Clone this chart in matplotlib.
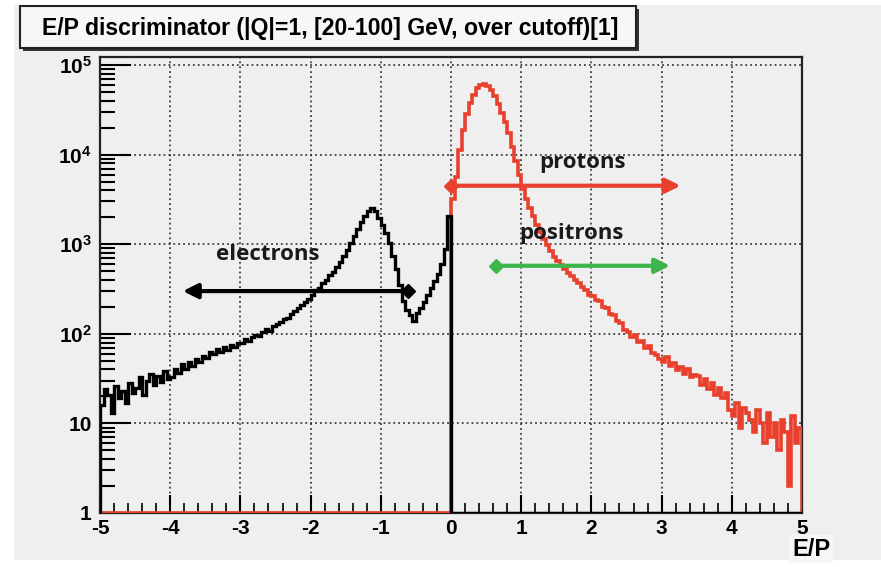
import numpy as np
import matplotlib
matplotlib.use('Agg')
import matplotlib.pyplot as plt
from matplotlib.patches import Rectangle
from matplotlib.ticker import FixedLocator, FixedFormatter, MultipleLocator, LogLocator, NullFormatter

# histogram binning, 0.05 wide bins over [-5, 5]
edges = np.linspace(-5, 5, 201)

# electron-like entries, E/P < 0 (100 bins)
electrons = [16, 24, 21, 13, 26, 19, 23, 17, 28, 22,
             25, 33, 21, 30, 36, 27, 34, 29, 38, 31,
             33, 41, 37, 46, 40, 48, 44, 53, 49, 57,
             54, 63, 59, 68, 62, 72, 66, 76, 71, 80,
             78, 88, 83, 93, 98, 95, 106, 112, 108, 121,
             128, 136, 148, 152, 168, 180, 192, 210, 226, 246,
             272, 305, 326, 368, 395, 450, 486, 556, 628, 742,
             870, 1020, 1230, 1480, 1780, 2090, 2340, 2510, 2340, 1950,
             1660, 1350, 1020, 740, 525, 355, 234, 186, 162, 140,
             170, 195, 229, 269, 324, 389, 468, 603, 891, 2050]

# proton/positron entries, E/P > 0 (100 bins)
positives = [3160, 5600, 11200, 19000, 28200, 38000, 46800, 55000, 60300, 61700,
             58900, 52500, 45700, 37200, 28800, 23400, 17400, 12300, 8500, 5900,
             4170, 3160, 2510, 2040, 1660, 1380, 1150, 980, 830, 725,
             645, 590, 525, 480, 437, 400, 370, 335, 305, 272,
             262, 236, 232, 198, 195, 165, 162, 138, 131, 110,
             104, 92, 96, 81, 84, 70, 73, 61, 58, 53,
             49, 55, 44, 47, 39, 43, 36, 40, 33, 35,
             34, 27, 31, 24, 28, 21, 25, 19, 22, 14,
             12, 17, 9, 15, 13, 11, 8, 14, 10, 6,
             13, 7, 10, 5, 11, 8, 2, 12, 6, 9]

# selection ranges drawn as arrows (E/P start, end, height in counts)
proton_sel = (0.0, 3.27, 4500)
positron_sel = (0.64, 3.12, 575)
electron_sel = (-0.61, -3.82, 300)

ytick_vals = [1, 10, 100, 1000, 10000, 100000]
ytick_labels = ['1', '10', r'$\mathbf{10^{2}}$', r'$\mathbf{10^{3}}$', r'$\mathbf{10^{4}}$', r'$\mathbf{10^{5}}$']

RED = '#e8402c'
GREEN = '#3db54a'
BG = '#efefef'

plt.rcParams['axes.unicode_minus'] = False
plt.rcParams['mathtext.fontset'] = 'custom'
plt.rcParams['mathtext.bf'] = 'Liberation Sans:bold'
plt.rcParams['mathtext.rm'] = 'Liberation Sans:bold'
lab_font = ['Liberation Sans Narrow', 'Liberation Sans']

W, H = 881, 567
fig = plt.figure(figsize=(W / 100, H / 100), dpi=100, facecolor='white')
fig.patches.append(Rectangle((14 / W, 1 - 560 / H), 1 - 14 / W, 555 / H,
                             transform=fig.transFigure, facecolor=BG, edgecolor='none', zorder=-10))

ax = fig.add_axes([100 / W, 54 / H, 702 / W, 456 / H])
ax.set_facecolor(BG)

black_counts = np.maximum(np.concatenate([electrons, np.zeros(100)]), 1)
red_counts = np.maximum(np.concatenate([np.zeros(100), positives]), 1)

ax.stairs(red_counts, edges, baseline=1, color=RED, lw=2.6, zorder=3)
ax.stairs(black_counts, edges, baseline=1, color='black', lw=2.4, zorder=4)

ax.set_yscale('log')
ax.set_xlim(-5, 5)
ax.set_ylim(1, 10 ** 5.09)

# grid like ROOT
ax.grid(True, which='major', color='#222222', linestyle=(0, (1.2, 2.0)), lw=1.1)
ax.set_axisbelow(True)

ax.xaxis.set_major_locator(MultipleLocator(1))
ax.xaxis.set_minor_locator(MultipleLocator(0.2))
ax.yaxis.set_major_locator(FixedLocator(ytick_vals))
ax.yaxis.set_major_formatter(FixedFormatter(ytick_labels))
ax.yaxis.set_minor_locator(LogLocator(base=10, subs=np.arange(2, 10)))
ax.yaxis.set_minor_formatter(NullFormatter())
ax.tick_params(axis='x', which='major', direction='in', length=13, width=1.5, pad=4, top=False)
ax.tick_params(axis='x', which='minor', direction='in', length=7, width=1.2, top=False)
ax.tick_params(axis='y', which='major', direction='in', length=22, width=1.5, pad=6, right=False)
ax.tick_params(axis='y', which='minor', direction='in', length=11, width=1.5, right=False)
for lab in ax.get_xticklabels() + ax.get_yticklabels():
    lab.set_family(lab_font)
    lab.set_fontweight('bold')
    lab.set_fontsize(15)
for s in ax.spines.values():
    s.set_linewidth(1.6)
    s.set_color('#222222')

# selection arrows
def sel_arrow(sel, color):
    x0, x1, y = sel
    ax.annotate('', xy=(x1, y), xytext=(x0, y),
                arrowprops=dict(arrowstyle='-|>', color=color, lw=3, mutation_scale=22,
                                shrinkA=0, shrinkB=0), zorder=6)
    ax.plot([x0], [y], marker='D', color=color, ms=7, zorder=7)

sel_arrow(proton_sel, RED)
sel_arrow(positron_sel, GREEN)
sel_arrow(electron_sel, 'black')

txt_kw = dict(fontsize=16, fontweight='bold', family=['Open Sans', 'DejaVu Sans'],
              color='#1a1a1a', ha='center', va='center', zorder=8)
ax.text(1.88, 8100, 'protons', **txt_kw)
ax.text(1.72, 1330, 'positrons', **txt_kw)
ax.text(-2.61, 760, 'electrons', **txt_kw)

# title box with shadow
fig.patches.append(Rectangle((23 / W, 1 - 51 / H), 616 / W, 42 / H, transform=fig.transFigure,
                             facecolor='#333333', edgecolor='none', zorder=1))
fig.patches.append(Rectangle((20 / W, 1 - 48 / H), 616 / W, 42 / H, transform=fig.transFigure,
                             facecolor='#f7f7f7', edgecolor='#222222', lw=1.5, zorder=2))
fig.text(330 / W, 1 - 29 / H, 'E/P discriminator (|Q|=1, [20-100] GeV, over cutoff)[1]',
         ha='center', va='center', fontsize=16.6, fontweight='bold', family=lab_font, zorder=3)

fig.text(830 / W, 1 - 549 / H, 'E/P', ha='right', va='center', fontsize=17,
         fontweight='bold', family=lab_font,
         bbox=dict(facecolor='#f6f6f6', edgecolor='none', pad=2))

plt.savefig('out.png', dpi=100, facecolor=fig.get_facecolor())
